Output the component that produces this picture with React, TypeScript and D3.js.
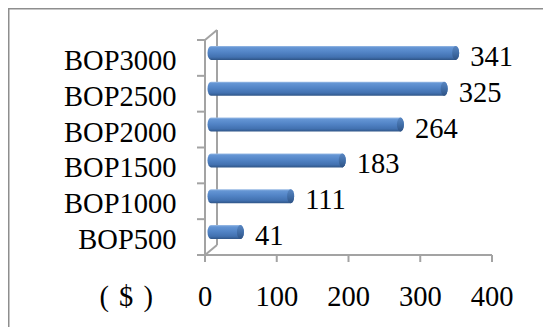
import { useMemo } from 'react';
import * as d3 from 'd3';

const categories = ['BOP500', 'BOP1000', 'BOP1500', 'BOP2000', 'BOP2500', 'BOP3000'];
const values = [41, 111, 183, 264, 325, 341];
const xTicks = [0, 100, 200, 300, 400];
const unitLabel = '( $ )';

const WIDTH = 543;
const HEIGHT = 327;
const DEPTH_X = 12;
const DEPTH_Y = -10;
const AXIS_COLOR = '#a3a3a3';
const FONT = '"Liberation Serif", "Times New Roman", serif';
const FONT_SIZE = 28.5;

export default function App() {
  const x = useMemo(() => d3.scaleLinear().domain([0, 400]).range([205, 492]), []);
  const y = useMemo(
    () =>
      d3
        .scaleBand<string>()
        .domain([...categories].reverse())
        .range([40, 255])
        .paddingInner(0)
        .paddingOuter(0),
    [],
  );

  const bw = y.bandwidth();
  const x0 = x(0);
  const yBottom = 255;
  const yTop = 40;
  const barH = 14;
  const rx = 3.5;
  const ry = barH / 2;

  // y-axis tick positions at the band boundaries
  const yTickPos = [...y.domain().map((c) => y(c)!), yTop + bw * categories.length];

  const bars = categories.map((c, i) => {
    const v = values[i];
    const cy = y(c)! + bw / 2 + DEPTH_Y / 2;
    const xs = x0 + DEPTH_X / 2;
    const xe = x(v) + DEPTH_X / 2;
    const t = cy - ry;
    const b = cy + ry;
    const body = `M${xs},${t} L${xe},${t} A${rx},${ry} 0 0 1 ${xe},${b} L${xs},${b} A${rx},${ry} 0 0 1 ${xs},${t} Z`;
    return (
      <g key={c}>
        <path d={body} fill="url(#barGrad)" />
        <ellipse cx={xe} cy={cy} rx={rx} ry={ry} fill="url(#capGrad)" />
        <text x={xe + rx + 11} y={cy + 13} fontSize={FONT_SIZE} fontFamily={FONT} fill="#000">
          {v}
        </text>
        <text
          x={176.5}
          y={y(c)! + bw / 2 + 12}
          textAnchor="end"
          fontSize={FONT_SIZE}
          fontFamily={FONT}
          fill="#000"
        >
          {c}
        </text>
      </g>
    );
  });

  return (
    <svg
      width={WIDTH}
      height={HEIGHT}
      style={{ position: 'absolute', left: 0, top: 0, background: '#fff' }}
    >
      <defs>
        <linearGradient id="barGrad" x1="0" y1="0" x2="0" y2="1">
          <stop offset="0" stopColor="#9dbde6" />
          <stop offset="0.12" stopColor="#6495d4" />
          <stop offset="0.45" stopColor="#5284c6" />
          <stop offset="0.8" stopColor="#4271b0" />
          <stop offset="1" stopColor="#2f5587" />
        </linearGradient>
        <linearGradient id="capGrad" x1="0" y1="0" x2="0" y2="1">
          <stop offset="0" stopColor="#5a87c2" />
          <stop offset="0.5" stopColor="#416ea8" />
          <stop offset="1" stopColor="#2f5385" />
        </linearGradient>
      </defs>

      {/* chart area border, runs off the page on the right and bottom */}
      <rect x={8.75} y={8.75} width={600} height={400} fill="none" stroke="#8e8e8e" strokeWidth={1.5} />

      {/* 3d wall / floor lines */}
      <g stroke={AXIS_COLOR} strokeWidth={2} fill="none">
        <line x1={x0 + DEPTH_X} y1={yTop + DEPTH_Y} x2={x0 + DEPTH_X} y2={yBottom + DEPTH_Y} />
        <line x1={x0} y1={yTop} x2={x0 + DEPTH_X} y2={yTop + DEPTH_Y} />
        <line x1={x0} y1={yBottom} x2={x0 + DEPTH_X} y2={yBottom + DEPTH_Y} />
        <line x1={x0} y1={yTop} x2={x0} y2={yBottom} />
        <line x1={x0} y1={yBottom} x2={x(400)} y2={yBottom} />
        {yTickPos.map((p, i) => (
          <line key={`yt${i}`} x1={x0 - 8} y1={p} x2={x0} y2={p} />
        ))}
        {xTicks.map((t) => (
          <line key={`xt${t}`} x1={x(t)} y1={yBottom} x2={x(t)} y2={yBottom + 7} />
        ))}
      </g>

      {bars}

      {xTicks.map((t) => (
        <text
          key={`xl${t}`}
          x={x(t)}
          y={306}
          textAnchor="middle"
          fontSize={FONT_SIZE}
          fontFamily={FONT}
          fill="#000"
        >
          {t}
        </text>
      ))}
      <text
        x={127}
        y={306}
        textAnchor="middle"
        fontSize={FONT_SIZE}
        fontFamily={FONT}
        letterSpacing={1.5}
        fill="#000"
      >
        {unitLabel}
      </text>
    </svg>
  );
}
